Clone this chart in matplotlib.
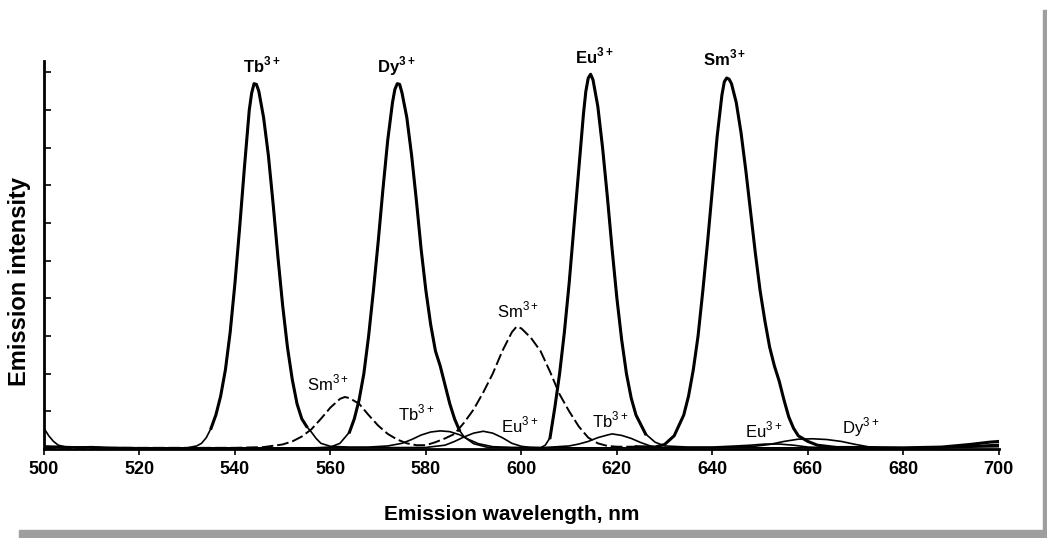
import matplotlib
matplotlib.use("Agg")
import matplotlib.pyplot as plt
from matplotlib.patches import Rectangle

plt.rcParams['font.family'] = ['Liberation Sans', 'DejaVu Sans']
plt.rcParams['mathtext.fontset'] = 'custom'
plt.rcParams['mathtext.rm'] = 'Liberation Sans'
plt.rcParams['mathtext.bf'] = 'Liberation Sans:bold'

# Emission spectra (intensity in y-tick units)
tb_wl = [500, 501, 502, 503, 505, 510, 515, 520, 525, 530, 532, 533, 534, 535, 536, 537, 538, 539, 540,
         541, 542, 543, 543.5, 544, 544.5, 545, 546, 547, 548, 549, 550, 551, 552, 553, 554, 555, 556,
         557, 558, 560, 564, 568, 572, 575, 577, 579, 581, 583, 585, 587, 589, 591, 594, 598, 605, 610,
         612, 614, 616, 618, 619, 621, 623, 625, 627, 629, 632, 640, 650, 660, 670, 680, 690, 700]
tb_int = [0.55, 0.35, 0.2, 0.1, 0.04, 0.06, 0.02, 0.02, 0.02, 0.03, 0.08, 0.15, 0.3, 0.55, 0.9, 1.4, 2.1,
          3.1, 4.4, 5.9, 7.5, 9.0, 9.45, 9.7, 9.68, 9.5, 8.8, 7.8, 6.5, 5.1, 3.8, 2.7, 1.85, 1.2, 0.8,
          0.6, 0.45, 0.28, 0.15, 0.07, 0.05, 0.05, 0.08, 0.15, 0.25, 0.37, 0.45, 0.48, 0.46, 0.38, 0.25,
          0.14, 0.06, 0.04, 0.04, 0.08, 0.13, 0.2, 0.3, 0.37, 0.4, 0.36, 0.28, 0.17, 0.08, 0.03, 0.03,
          0.03, 0.03, 0.03, 0.02, 0.02, 0.04, 0.06]

dy_wl = [500, 510, 520, 540, 555, 560, 562, 564, 565, 566, 567, 568, 569, 570, 571, 572, 573, 573.5, 574,
         574.5, 575, 576, 577, 578, 579, 580, 581, 582, 583, 584, 585, 586, 587, 588, 590, 593, 600, 620,
         640, 648, 652, 655, 658, 661, 664, 667, 670, 673, 676, 680, 690, 700]
dy_int = [0.08, 0.04, 0.03, 0.02, 0.02, 0.05, 0.15, 0.45, 0.8, 1.3, 2.0, 3.0, 4.2, 5.5, 6.9, 8.2, 9.2,
          9.55, 9.7, 9.68, 9.45, 8.8, 7.8, 6.6, 5.3, 4.2, 3.3, 2.6, 2.2, 1.7, 1.2, 0.8, 0.5, 0.32, 0.14,
          0.04, 0.03, 0.03, 0.04, 0.06, 0.12, 0.2, 0.26, 0.27, 0.25, 0.2, 0.12, 0.05, 0.02, 0.01, 0.04,
          0.1]

eu_wl = [500, 520, 560, 580, 584, 586, 588, 590, 592, 594, 596, 598, 600, 602, 604, 605, 606, 607, 608,
         609, 610, 611, 612, 613, 613.5, 614, 614.5, 615, 616, 617, 618, 619, 620, 621, 622, 623, 624,
         626, 628, 630, 635, 640, 645, 648, 651, 654, 657, 660, 665, 680, 690, 700]
eu_int = [0.05, 0.03, 0.03, 0.04, 0.1, 0.2, 0.32, 0.42, 0.47, 0.42, 0.3, 0.15, 0.07, 0.04, 0.03, 0.1,
          0.3, 1.1, 2.0, 3.1, 4.4, 5.9, 7.4, 8.9, 9.5, 9.85, 9.95, 9.8, 9.1, 8.0, 6.7, 5.3, 4.0, 2.9,
          2.0, 1.35, 0.9, 0.4, 0.18, 0.08, 0.05, 0.05, 0.08, 0.1, 0.13, 0.13, 0.1, 0.05, 0.03, 0.02,
          0.05, 0.12]

sm_wl = [500, 520, 540, 546, 550, 552, 554, 556, 558, 560, 562, 563, 564, 566, 568, 570, 572, 574, 576,
         578, 580, 582, 584, 586, 588, 590, 592, 594, 596, 598, 599, 600, 602, 604, 606, 608, 610, 612,
         614, 616, 618, 620, 624, 628, 630, 632, 634, 635, 636, 637, 638, 639, 640, 641, 642, 642.5, 643,
         643.5, 644, 645, 646, 647, 648, 649, 650, 651, 652, 653, 654, 655, 656, 657, 658, 660, 662, 666,
         670, 680, 688, 694, 698, 700]
sm_int = [0.03, 0.03, 0.03, 0.05, 0.12, 0.2, 0.33, 0.52, 0.8, 1.1, 1.33, 1.38, 1.35, 1.2, 0.9, 0.62,
          0.4, 0.25, 0.15, 0.1, 0.1, 0.18, 0.28, 0.4, 0.7, 1.05, 1.5, 2.0, 2.6, 3.1, 3.25, 3.2, 2.95,
          2.6, 2.05, 1.45, 1.0, 0.6, 0.3, 0.15, 0.08, 0.06, 0.06, 0.05, 0.12, 0.35, 0.9, 1.4, 2.1, 3.0,
          4.2, 5.5, 6.9, 8.3, 9.4, 9.75, 9.85, 9.82, 9.7, 9.2, 8.4, 7.4, 6.3, 5.2, 4.2, 3.4, 2.7, 2.2,
          1.8, 1.3, 0.85, 0.55, 0.35, 0.2, 0.1, 0.04, 0.04, 0.03, 0.05, 0.12, 0.18, 0.2]

wl_ticks = [500, 520, 540, 560, 580, 600, 620, 640, 660, 680, 700]

# bold labels over the main bands, plain labels over the weak bands (left edge, baseline)
main_labels = [("Tb", 541.7, 10.0), ("Dy", 569.7, 10.0), ("Eu", 611.2, 10.24), ("Sm", 638.0, 10.19)]
minor_labels = [("Sm", 555.1, 1.56), ("Tb", 574.1, 0.77), ("Eu", 595.7, 0.45), ("Sm", 594.9, 3.5),
                ("Tb", 614.8, 0.56), ("Eu", 646.8, 0.32), ("Dy", 667.1, 0.4)]

fig = plt.figure(figsize=(10.47, 5.38), dpi=100)
ax = fig.add_axes([0.042, 0.1655, 0.912, 0.721])

spectra = [(tb_wl, tb_int), (dy_wl, dy_int), (eu_wl, eu_int)]
for wl, inten in spectra:
    ax.plot(wl, inten, color='black', lw=1.2)
    big = [i for i, v in enumerate(inten) if v > 0.6]
    lo, hi = big[0] - 1, big[-1] + 2
    ax.plot(wl[lo:hi], inten[lo:hi], color='black', lw=2.2, solid_joinstyle='round')

# Sm: weak bands dashed, main band solid
cut = sm_wl.index(624)
ax.plot(sm_wl[:cut + 1], sm_int[:cut + 1], color='black', lw=1.4, ls=(0, (6, 2)))
ax.plot(sm_wl[cut:], sm_int[cut:], color='black', lw=2.2, solid_joinstyle='round')

ax.set_xlim(500, 700)
ax.set_ylim(0, 10.3)
ax.set_xticks(wl_ticks)
ax.set_xticklabels([str(t) for t in wl_ticks], fontsize=13, fontweight='bold')
ax.set_yticks(range(0, 11))
ax.set_yticklabels([])
ax.tick_params(axis='y', direction='in', length=5, width=1.2)
ax.tick_params(axis='x', direction='out', length=4, width=1.2, pad=5)
for s in ['top', 'right']:
    ax.spines[s].set_visible(False)
for s in ['left', 'bottom']:
    ax.spines[s].set_linewidth(2)

ax.set_xlabel("Emission wavelength, nm", fontsize=15, fontweight='bold', va='top')
ax.xaxis.set_label_coords(0.49, -0.145)
fig.text(20 / 1047, 1 - 282 / 538, "Emission intensity", rotation=90, fontsize=17, fontweight='bold',
         ha='center', va='center')

for name, x, y in main_labels:
    ax.text(x, y, r'$\mathbf{%s}^{\mathbf{3+}}$' % name, fontsize=12, ha='left', va='baseline')
for name, x, y in minor_labels:
    ax.text(x, y, r'$\mathrm{%s}^{\mathrm{3+}}$' % name, fontsize=12, ha='left', va='baseline')

# grey drop-shadow frame of the scanned figure
fig.patches.append(Rectangle((1043 / 1047, 0), 4 / 1047, 528 / 538, transform=fig.transFigure,
                             color='#9e9e9e', zorder=0))
fig.patches.append(Rectangle((19 / 1047, 0), 1028 / 1047, 8 / 538, transform=fig.transFigure,
                             color='#9e9e9e', zorder=0))

fig.savefig("out.png", dpi=100)
